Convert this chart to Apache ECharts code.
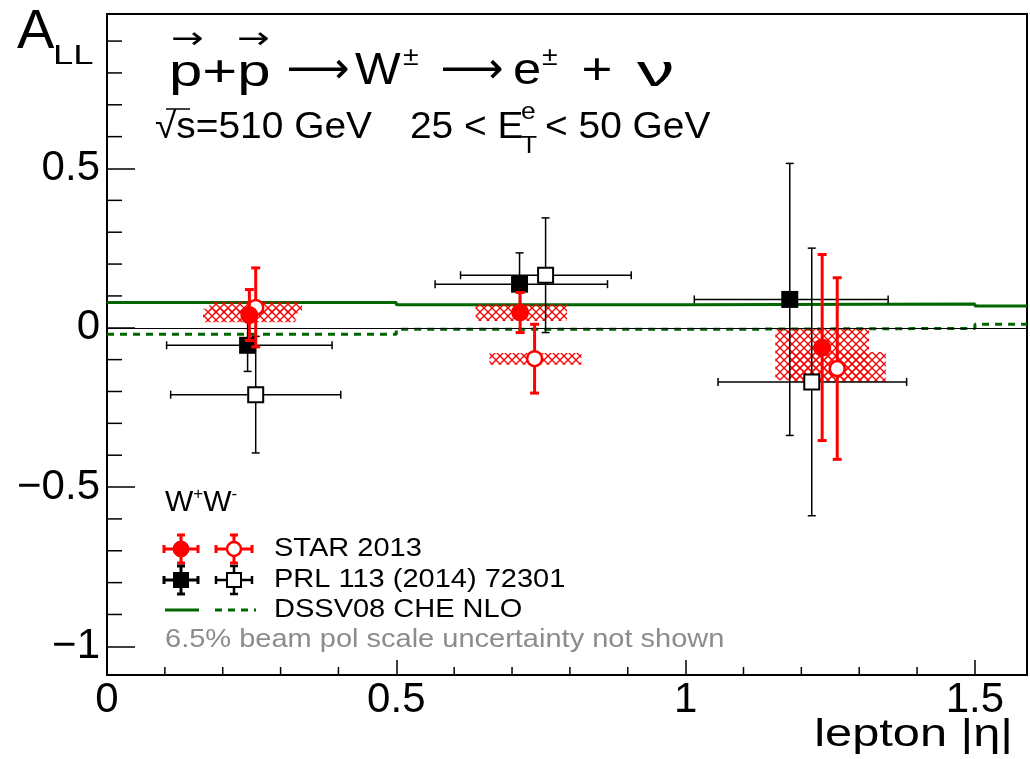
<!DOCTYPE html>
<html><head><meta charset="utf-8">
<script src="https://cdn.jsdelivr.net/npm/echarts@6/dist/echarts.min.js"></script>
<style>html,body{margin:0;padding:0;background:#fff}#c{width:1030px;height:759px}</style>
</head><body><div id="c"></div>
<script>
const FONT = '"Liberation Sans", Arial, Helvetica, sans-serif';
const DJV = '"DejaVu Sans", sans-serif';

// ---- STAR 2013, W+ (filled) ----
const starWpX = [0.246, 0.714, 1.236];
const starWpY = [0.040, 0.048, -0.062];
const starWpErr = [0.080, 0.063, 0.292];
const starWpSysXLo = [0.166, 0.637, 1.155];
const starWpSysXHi = [0.326, 0.795, 1.317];
const starWpSysYLo = [0.017, 0.021, -0.165];
const starWpSysYHi = [0.060, 0.074, -0.003];

// ---- STAR 2013, W- (open) ----
const starWmX = [0.257, 0.739, 1.262];
const starWmY = [0.064, -0.097, -0.128];
const starWmErr = [0.124, 0.108, 0.285];
const starWmSysXLo = [0.177, 0.661, 1.182];
const starWmSysXHi = [0.337, 0.820, 1.346];
const starWmSysYLo = [0.045, -0.116, -0.170];
const starWmSysYHi = [0.082, -0.079, -0.076];

// ---- PRL 113 (2014) 72301, W+ (filled) ----
const prlWpX = [0.243, 0.713, 1.180];
const prlWpY = [-0.055, 0.137, 0.089];
const prlWpErr = [0.082, 0.098, 0.427];
const prlWpXLo = [0.103, 0.567, 1.015];
const prlWpXHi = [0.389, 0.865, 1.350];

// ---- PRL 113 (2014) 72301, W- (open) ----
const prlWmX = [0.257, 0.758, 1.218];
const prlWmY = [-0.210, 0.165, -0.170];
const prlWmErr = [0.183, 0.180, 0.420];
const prlWmXLo = [0.110, 0.611, 1.056];
const prlWmXHi = [0.404, 0.906, 1.382];

// ---- DSSV08 CHE NLO (step curves at bin edges) ----
const theoryX = [0, 0.5, 1.0, 1.5, 1.59];
const theoryWp = [0.079, 0.072, 0.075, 0.068, 0.068];
const theoryWm = [-0.020, -0.005, -0.002, 0.011, 0.011];

// ---- axes ----
const xMin = 0, xMax = 1.59, yMin = -1.09, yMax = 0.985;
const xMajorTicks = [0, 0.5, 1, 1.5];
const xTickLabels = ['0', '0.5', '1', '1.5'];
const yMajorTicks = [-1, -0.5, 0, 0.5];
const yTickLabels = ['\u22121', '\u22120.5', '0', '0.5'];
const xMinorTicks = [0.1,0.2,0.3,0.4,0.6,0.7,0.8,0.9,1.1,1.2,1.3,1.4];
const yMinorTicks = [-0.9,-0.8,-0.7,-0.6,-0.4,-0.3,-0.2,-0.1,0.1,0.2,0.3,0.4,0.6,0.7,0.8,0.9];

const RED = '#ff0000', GREEN = '#006600', GREY = '#8c8c8c';

// hatch pattern
const pat = document.createElement('canvas');
pat.width = 8; pat.height = 8;
(function(){
  const g = pat.getContext('2d');
  g.strokeStyle = RED; g.lineWidth = 1.3;
  g.beginPath();
  g.moveTo(0,0); g.lineTo(8,8);
  g.moveTo(8,0); g.lineTo(0,8);
  g.stroke();
})();

function findIdx(arr, v){ for (let i=0;i<arr.length;i++){ if (Math.abs(arr[i]-v)<1e-6) return i; } return -1; }

function errSeries(name, xs, ys, errs, xlo, xhi, o) {
  return {
    type: 'custom', name, z: o.z, silent: true, clip: false,
    data: xs.map((x,i)=>[x, ys[i], errs[i], xlo ? xlo[i] : x, xhi ? xhi[i] : x]),
    encode: {x: 0, y: 1},
    renderItem(params, api) {
      const x = api.value(0), y = api.value(1), e = api.value(2), xl = api.value(3), xh = api.value(4);
      const c = api.coord([x, y]);
      const t = api.coord([x, y + e]), b = api.coord([x, y - e]);
      const l = api.coord([xl, y]), r = api.coord([xh, y]);
      const ls = {stroke: o.color, lineWidth: o.lw, fill: null};
      const cap = o.cap;
      const ch = [
        {type:'line', shape:{x1:c[0], y1:t[1], x2:c[0], y2:b[1]}, style:ls},
        {type:'line', shape:{x1:c[0]-cap, y1:t[1], x2:c[0]+cap, y2:t[1]}, style:ls},
        {type:'line', shape:{x1:c[0]-cap, y1:b[1], x2:c[0]+cap, y2:b[1]}, style:ls}
      ];
      if (xh > xl) {
        ch.push({type:'line', shape:{x1:l[0], y1:c[1], x2:r[0], y2:c[1]}, style:ls});
        ch.push({type:'line', shape:{x1:l[0], y1:c[1]-cap, x2:l[0], y2:c[1]+cap}, style:ls});
        ch.push({type:'line', shape:{x1:r[0], y1:c[1]-cap, x2:r[0], y2:c[1]+cap}, style:ls});
      }
      const s = o.size;
      const ms = {fill: o.fill, stroke: o.color, lineWidth: o.mlw};
      if (o.shape === 'circle') ch.push({type:'circle', shape:{cx:c[0], cy:c[1], r:s/2}, style:ms});
      else ch.push({type:'rect', shape:{x:c[0]-s/2, y:c[1]-s/2, width:s, height:s}, style:ms});
      return {type:'group', children: ch};
    }
  };
}

function sysSeries(name, xlo, xhi, ylo, yhi) {
  return {
    type: 'custom', name, z: 3, silent: true,
    data: xlo.map((v,i)=>[v, ylo[i], xhi[i], yhi[i]]),
    encode: {x: [0,2], y: [1,3]},
    renderItem(params, api) {
      const p1 = api.coord([api.value(0), api.value(3)]);
      const p2 = api.coord([api.value(2), api.value(1)]);
      return {type:'rect', shape:{x:p1[0], y:p1[1], width:p2[0]-p1[0], height:p2[1]-p1[1]},
        style:{fill:{image: pat, repeat:'repeat'}, stroke: null}};
    }
  };
}

function tickSeries(vals, isY, len) {
  return {
    type: 'custom', z: 1, silent: true, clip: false,
    data: vals.map(v => isY ? [xMin, v] : [v, yMin]),
    encode: {x: 0, y: 1},
    renderItem(params, api) {
      const c = api.coord([api.value(0), api.value(1)]);
      const sh = isY ? {x1:c[0], y1:c[1], x2:c[0]+len, y2:c[1]} : {x1:c[0], y1:c[1], x2:c[0], y2:c[1]-len};
      return {type:'line', shape: sh, style:{stroke:'#000', lineWidth:1.5}};
    }
  };
}

function txt(x, y, text, size, o) {
  o = o || {};
  return {type:'text', x, y, scaleX: o.sx || 1, silent: true, z: 100,
    style: {text, x:0, y:0, fontSize: size, fontFamily: o.family || FONT, fill: o.color || '#000',
      align: o.align || 'left', verticalAlign: 'middle', rich: o.rich}};
}
function gl(x1,y1,x2,y2,color,w,dash){
  return {type:'line', silent:true, z:100, shape:{x1,y1,x2,y2}, style:{stroke:color, lineWidth:w, lineDash: dash || null}};
}
function legErr(cx, cy, color, lw, hw, vh, cap){
  return [
    gl(cx-hw, cy, cx+hw, cy, color, lw), gl(cx-hw, cy-cap, cx-hw, cy+cap, color, lw), gl(cx+hw, cy-cap, cx+hw, cy+cap, color, lw),
    gl(cx, cy-vh, cx, cy+vh, color, lw), gl(cx-cap, cy-vh, cx+cap, cy-vh, color, lw), gl(cx-cap, cy+vh, cx+cap, cy+vh, color, lw)
  ];
}

const legendEls = [].concat(
  legErr(181, 549, RED, 3, 17, 14, 4),
  [{type:'circle', silent:true, z:101, shape:{cx:181, cy:549, r:8}, style:{fill:RED, stroke:RED, lineWidth:1}}],
  legErr(234, 549, RED, 3, 18, 14, 4),
  [{type:'circle', silent:true, z:101, shape:{cx:234, cy:549, r:7}, style:{fill:'#fff', stroke:RED, lineWidth:2.5}}],
  legErr(181, 580, '#000', 3, 17, 14, 4),
  [{type:'rect', silent:true, z:101, shape:{x:173, y:572, width:16, height:16}, style:{fill:'#000'}}],
  legErr(234, 580, '#000', 2.5, 18, 14, 4),
  [{type:'rect', silent:true, z:101, shape:{x:227, y:573, width:14, height:14}, style:{fill:'#fff', stroke:'#000', lineWidth:2}}],
  [gl(165, 610, 199, 610, GREEN, 3), gl(215, 610, 256, 610, GREEN, 3, [7, 6])]
);

const titleEls = [
  txt(169, 74, 'p+p', 44, {sx: 1.36}),
  txt(187, 40, '\u2192', 30, {sx: 1.3, align: 'center', family: DJV}),
  txt(253, 40, '\u2192', 30, {sx: 1.3, align: 'center', family: DJV}),
  txt(318, 72, '\u27f6', 44, {sx: 1.0, align: 'center', family: DJV}),
  txt(355, 72, 'W', 44, {sx: 1.1}),
  txt(403, 58, '\u00b1', 26, {sx: 1.1}),
  txt(472, 72, '\u27f6', 44, {sx: 1.0, align: 'center', family: DJV}),
  txt(513, 72, 'e', 44, {sx: 1.15}),
  txt(542, 58, '\u00b1', 26, {sx: 1.1}),
  txt(597, 72, '+', 44, {sx: 1.2, align: 'center'}),
  txt(637, 74, '\u03bd', 44, {sx: 1.7}),
  // second line
  txt(155, 128, '\u221as=510 GeV', 36, {sx: 1.08}),
  gl(166, 109, 190, 109, '#000', 1.5),
  txt(410, 128, '25 < E', 36, {sx: 1.08}),
  txt(521, 112, 'e', 24, {sx: 1.1}),
  txt(521, 146, 'T', 24, {sx: 1.1}),
  txt(545, 128, '< 50 GeV', 36, {sx: 1.08})
];

const option = {
  animation: false,
  backgroundColor: '#fff',
  grid: {left: 107, top: 14, right: 1, bottom: 84, show: true, borderColor: '#000', borderWidth: 2, backgroundColor: 'transparent'},
  xAxis: {
    type: 'value', min: xMin, max: xMax, interval: 0.5,
    axisLine: {show: true, onZero: false, lineStyle: {color: '#000', width: 2}},
    axisTick: {show: true, inside: true, length: 15, lineStyle: {color: '#000', width: 1.5}},
    splitLine: {show: false},
    axisLabel: {fontSize: 42, fontFamily: FONT, color: '#000', margin: 4,
      formatter: v => { const i = findIdx(xMajorTicks, v); return i < 0 ? '' : xTickLabels[i]; }}
  },
  yAxis: {
    type: 'value', min: yMin, max: yMax, splitNumber: 4, minInterval: 0.5, maxInterval: 0.5,
    axisLine: {show: true, onZero: false, lineStyle: {color: '#000', width: 2}},
    axisTick: {show: true, inside: true, length: 28, lineStyle: {color: '#000', width: 1.5}},
    splitLine: {show: false},
    axisLabel: {fontSize: 42, fontFamily: FONT, color: '#000', margin: 7,
      formatter: v => { const i = findIdx(yMajorTicks, v); return i < 0 ? '' : yTickLabels[i]; }}
  },
  series: [
    tickSeries(yMinorTicks, true, 15),
    tickSeries(xMinorTicks, false, 8),
    {
      type: 'line', name: 'DSSV08 W+', z: 2, step: 'end', symbol: 'none', silent: true,
      data: theoryX.map((x,i)=>[x, theoryWp[i]]),
      lineStyle: {color: GREEN, width: 3},
      markLine: {silent: true, symbol: 'none', label: {show: false}, data: [{yAxis: 0}],
        lineStyle: {color: '#000', width: 1, type: 'solid'}}
    },
    {
      type: 'line', name: 'DSSV08 W-', z: 2, step: 'end', symbol: 'none', silent: true,
      data: theoryX.map((x,i)=>[x, theoryWm[i]]),
      lineStyle: {color: GREEN, width: 3, type: [7, 6]}
    },
    sysSeries('STAR W+ sys', starWpSysXLo, starWpSysXHi, starWpSysYLo, starWpSysYHi),
    sysSeries('STAR W- sys', starWmSysXLo, starWmSysXHi, starWmSysYLo, starWmSysYHi),
    errSeries('PRL W+', prlWpX, prlWpY, prlWpErr, prlWpXLo, prlWpXHi, {z:4, color:'#000', lw:1.5, cap:4, shape:'rect', size:17, fill:'#000', mlw:0}),
    errSeries('PRL W-', prlWmX, prlWmY, prlWmErr, prlWmXLo, prlWmXHi, {z:4, color:'#000', lw:1.5, cap:4, shape:'rect', size:15, fill:'#fff', mlw:2}),
    errSeries('STAR W-', starWmX, starWmY, starWmErr, null, null, {z:5, color:RED, lw:3, cap:4.5, shape:'circle', size:15, fill:'#fff', mlw:2.5}),
    errSeries('STAR W+', starWpX, starWpY, starWpErr, null, null, {z:6, color:RED, lw:3, cap:4.5, shape:'circle', size:18, fill:RED, mlw:0})
  ],
  graphic: [
    txt(17, 33, 'A', 56),
    txt(53, 57, 'LL', 27, {sx: 1.35}),
    txt(165, 502, '{b|W}{s|+}{b|W}{s|-}', 30, {sx: 1.0,
      rich: {b: {fontSize: 30, fontFamily: FONT, lineHeight: 32, verticalAlign: 'bottom'},
             s: {fontSize: 17, fontFamily: FONT, lineHeight: 17, verticalAlign: 'top'}}}),
    txt(274, 549, 'STAR 2013', 25, {sx: 1.16}),
    txt(274, 580, 'PRL 113 (2014) 72301', 25, {sx: 1.16}),
    txt(274, 610, 'DSSV08 CHE NLO', 25, {sx: 1.16}),
    txt(165, 640, '6.5% beam pol scale uncertainty not shown', 25, {sx: 1.16, color: GREY}),
    txt(1013, 735, 'lepton |\u03b7|', 39, {sx: 1.25, align: 'right'})
  ].concat(titleEls, legendEls)
};

const chart = echarts.init(document.getElementById('c'));
chart.setOption(option);
</script>
</body></html>
